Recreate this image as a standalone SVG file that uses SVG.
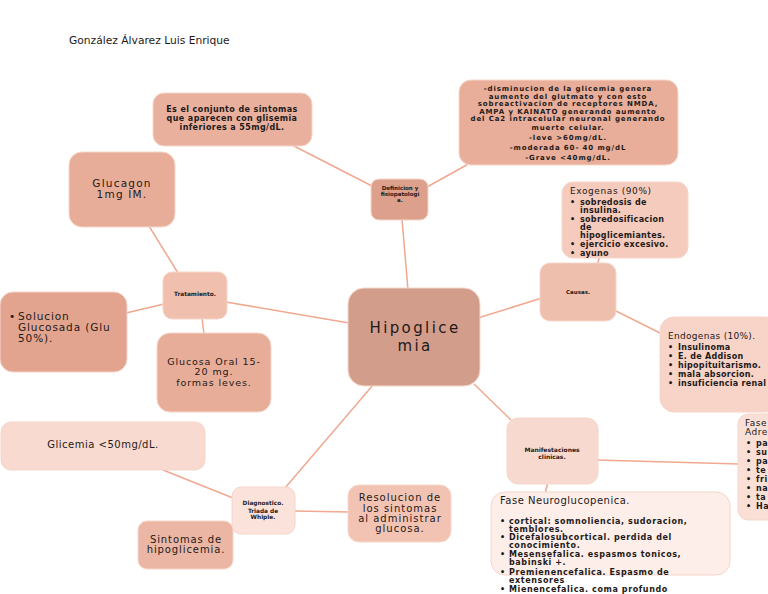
<svg xmlns="http://www.w3.org/2000/svg" width="768" height="594" viewBox="0 0 768 594">
<style>
.bx{stroke:#f6d6ca;stroke-width:1}
.c{stroke:#f0a88f;stroke-width:1.5;fill:none}
text{font-family:"DejaVu Sans","Liberation Sans",sans-serif;fill:#1e1a19}
.b{font-weight:bold}
.m{text-anchor:middle}
</style>
<rect width="768" height="594" fill="#ffffff"/>
<text x="69" y="44" font-size="10.7" fill="#333">González Álvarez Luis Enrique</text>

<g id="connectors">
<line class="c" x1="408" y1="290" x2="402" y2="219"/>
<line class="c" x1="372" y1="186" x2="292" y2="145"/>
<line class="c" x1="427" y1="187" x2="472" y2="162"/>
<line class="c" x1="478" y1="318" x2="542" y2="298"/>
<line class="c" x1="597" y1="265" x2="600" y2="256"/>
<line class="c" x1="614" y1="310" x2="662" y2="334"/>
<line class="c" x1="474" y1="384" x2="511" y2="420"/>
<line class="c" x1="596" y1="460" x2="740" y2="464"/>
<line class="c" x1="548" y1="482" x2="545" y2="494"/>
<line class="c" x1="373" y1="385" x2="285" y2="488"/>
<line class="c" x1="163" y1="470" x2="233" y2="498"/>
<line class="c" x1="294" y1="511" x2="349" y2="512"/>
<line class="c" x1="349" y1="323" x2="226" y2="302"/>
<line class="c" x1="149" y1="226" x2="178" y2="273"/>
<line class="c" x1="126" y1="313" x2="164" y2="304"/>
<line class="c" x1="202" y1="318" x2="204" y2="334"/>
</g>

<g id="n-def1">
<rect class="bx" x="153" y="93" width="159" height="53" rx="11" fill="#e9b19d"/>
<g font-size="8" letter-spacing="0.4">
<text class="b m" x="232" y="112">Es el conjunto de sintomas</text>
<text class="b m" x="232" y="121">que aparecen con glisemia</text>
<text class="b m" x="232" y="130">inferiores a 55mg/dL.</text>
</g>
</g>

<g id="n-def2">
<rect class="bx" x="459" y="80" width="219" height="85" rx="12" fill="#e8ae99"/>
<g font-size="7" letter-spacing="0.9">
<text class="b m" x="568" y="91">-disminucion de la glicemia genera</text>
<text class="b m" x="568" y="99">aumento del glutmato y con esto</text>
<text class="b m" x="568" y="106">sobreactivacion de receptores NMDA,</text>
<text class="b m" x="568" y="114">AMPA y KAINATO generando aumento</text>
<text class="b m" x="568" y="121">del Ca2 intracelular neuronal generando</text>
<text class="b m" x="568" y="130">muerte celular.</text>
<text class="b m" x="568" y="140">-leve &gt;60mg/dL.</text>
<text class="b m" x="568" y="150">-moderada 60- 40 mg/dL</text>
<text class="b m" x="568" y="160">-Grave &lt;40mg/dL.</text>
</g>
</g>

<g id="n-definicion">
<rect class="bx" x="371" y="179" width="57" height="41" rx="8" fill="#dca08c"/>
<g font-size="5.5">
<text class="b m" x="400" y="190">Definicion y</text>
<text class="b m" x="400" y="196">fisiopatologi</text>
<text class="b m" x="400" y="202">a.</text>
</g>
</g>

<g id="n-center">
<rect class="bx" x="348" y="288" width="132" height="98" rx="16" fill="#d39d8c"/>
<text class="m" x="415" y="333" font-size="15" letter-spacing="2.4">Hipoglice</text>
<text class="m" x="415" y="350.5" font-size="15" letter-spacing="2.4">mia</text>
</g>

<g id="n-causas">
<rect class="bx" x="540" y="263" width="76" height="58" rx="10" fill="#efbfad"/>
<text class="b m" x="578" y="294" font-size="5.5">Causas.</text>
</g>

<g id="n-exogenas">
<rect class="bx" x="562" y="182" width="126" height="76" rx="11" fill="#f5cbbd"/>
<g font-size="8" letter-spacing="0.3">
<text x="570" y="194" font-size="9" letter-spacing="0.6">Exogenas (90%)</text>
<text class="b" x="570" y="205">•</text><text class="b" x="580" y="205">sobredosis de</text>
<text class="b" x="580" y="213">insulina.</text>
<text class="b" x="570" y="222">•</text><text class="b" x="580" y="222">sobredosificacion</text>
<text class="b" x="580" y="230">de</text>
<text class="b" x="580" y="238">hipoglicemiantes.</text>
<text class="b" x="570" y="247">•</text><text class="b" x="580" y="247">ejercicio excesivo.</text>
<text class="b" x="570" y="256">•</text><text class="b" x="580" y="256">ayuno</text>
</g>
</g>

<g id="n-endogenas">
<rect class="bx" x="660" y="317" width="120" height="95" rx="14" fill="#f7d4c7"/>
<g font-size="8" letter-spacing="0.3">
<text x="668" y="339" font-size="9">Endogenas (10%).</text>
<text class="b" x="668" y="350">•</text><text class="b" x="678" y="350">Insulinoma</text>
<text class="b" x="668" y="359">•</text><text class="b" x="678" y="359">E. de Addison</text>
<text class="b" x="668" y="368">•</text><text class="b" x="678" y="368">hipopituitarismo.</text>
<text class="b" x="668" y="377">•</text><text class="b" x="678" y="377">mala absorcion.</text>
<text class="b" x="668" y="386">•</text><text class="b" x="678" y="386">insuficiencia renal</text>
</g>
</g>

<g id="n-adrenergica">
<rect class="bx" x="738" y="414" width="50" height="106" rx="10" fill="#fadfd6"/>
<g font-size="9" letter-spacing="0.5">
<text x="745" y="426">Fase</text>
<text x="745" y="435">Adre</text>
<g font-size="8">
<text class="b" x="746" y="446">•</text><text class="b" x="756" y="446">pa</text>
<text class="b" x="746" y="455">•</text><text class="b" x="756" y="455">su</text>
<text class="b" x="746" y="464">•</text><text class="b" x="756" y="464">pa</text>
<text class="b" x="746" y="473">•</text><text class="b" x="756" y="473">te</text>
<text class="b" x="746" y="482">•</text><text class="b" x="756" y="482">fri</text>
<text class="b" x="746" y="491">•</text><text class="b" x="756" y="491">na</text>
<text class="b" x="746" y="500">•</text><text class="b" x="756" y="500">ta</text>
<text class="b" x="746" y="509">•</text><text class="b" x="756" y="509">Ha</text>
</g>
</g>
</g>

<g id="n-manifestaciones">
<rect class="bx" x="507" y="418" width="91" height="66" rx="11" fill="#f8d9cf"/>
<text class="b m" x="552" y="452" font-size="6">Manifestaciones</text>
<text class="b m" x="552" y="459" font-size="6">clinicas.</text>
</g>

<g id="n-neuro">
<rect class="bx" x="491" y="492" width="239" height="83" rx="14" fill="#fdeee9"/>
<g font-size="8" letter-spacing="0.6">
<text x="500" y="504" font-size="10" letter-spacing="0.5">Fase Neuroglucopenica.</text>
<text class="b" x="500" y="524">•</text><text class="b" x="509" y="524">cortical: somnoliencia, sudoracion,</text>
<text class="b" x="509" y="532">temblores.</text>
<text class="b" x="500" y="540">•</text><text class="b" x="509" y="540">Dicefalosubcortical. perdida del</text>
<text class="b" x="509" y="548">conocimiento.</text>
<text class="b" x="500" y="557">•</text><text class="b" x="509" y="557">Mesensefalica. espasmos tonicos,</text>
<text class="b" x="509" y="565">babinski +.</text>
<text class="b" x="500" y="575">•</text><text class="b" x="509" y="575">Premienencefalica. Espasmo de</text>
<text class="b" x="509" y="583">extensores</text>
<text class="b" x="500" y="592">•</text><text class="b" x="509" y="592">Mienencefalica. coma profundo</text>
</g>
</g>

<g id="n-diagnostico">
<rect class="bx" x="232" y="487" width="63" height="47" rx="9" fill="#fbe3dc"/>
<text class="b m" x="263" y="505" font-size="5.8">Diagnostico.</text>
<text class="b m" x="263" y="513" font-size="5.8">Triada de</text>
<text class="b m" x="263" y="518.5" font-size="5.8">Whiple.</text>
</g>

<g id="n-glicemia">
<rect class="bx" x="1" y="422" width="204" height="48" rx="10" fill="#f8dad0"/>
<text class="m" x="103" y="448" font-size="10" letter-spacing="0.5">Glicemia &lt;50mg/dL.</text>
</g>

<g id="n-resolucion">
<rect class="bx" x="348" y="485" width="103" height="57" rx="11" fill="#f2c3b2"/>
<g font-size="10" letter-spacing="1">
<text class="m" x="400" y="501">Resolucion de</text>
<text class="m" x="400" y="511.5">los sintomas</text>
<text class="m" x="400" y="522">al administrar</text>
<text class="m" x="400" y="532">glucosa.</text>
</g>
</g>

<g id="n-sintomas">
<rect class="bx" x="138" y="521" width="95" height="48" rx="9" fill="#ebb6a3"/>
<text class="m" x="186" y="543" font-size="10" letter-spacing="0.9">Sintomas de</text>
<text class="m" x="186" y="553" font-size="10" letter-spacing="0.9">hipoglicemia.</text>
</g>

<g id="n-tratamiento">
<rect class="bx" x="163" y="272" width="64" height="47" rx="9" fill="#f0bfad"/>
<text class="b m" x="195" y="296" font-size="5.8">Tratamiento.</text>
</g>

<g id="n-glucagon">
<rect class="bx" x="69" y="152" width="106" height="75" rx="13" fill="#e8ad98"/>
<text class="m" x="122" y="187" font-size="10.5" letter-spacing="1.2">Glucagon</text>
<text class="m" x="122" y="198" font-size="10.5" letter-spacing="1.2">1mg IM.</text>
</g>

<g id="n-solucion">
<rect class="bx" x="0" y="292" width="127" height="80" rx="13" fill="#e2a48f"/>
<g font-size="10.5" letter-spacing="0.9">
<text x="9" y="320">•</text><text x="18" y="320">Solucion</text>
<text x="18" y="331">Glucosada (Glu</text>
<text x="18" y="342">50%).</text>
</g>
</g>

<g id="n-glucosa">
<rect class="bx" x="157" y="333" width="114" height="79" rx="13" fill="#e8ad98"/>
<g font-size="9.5" letter-spacing="0.9">
<text class="m" x="214" y="365">Glucosa Oral 15-</text>
<text class="m" x="214" y="374.5">20 mg.</text>
<text class="m" x="214" y="385.5">formas leves.</text>
</g>
</g>
</svg>
